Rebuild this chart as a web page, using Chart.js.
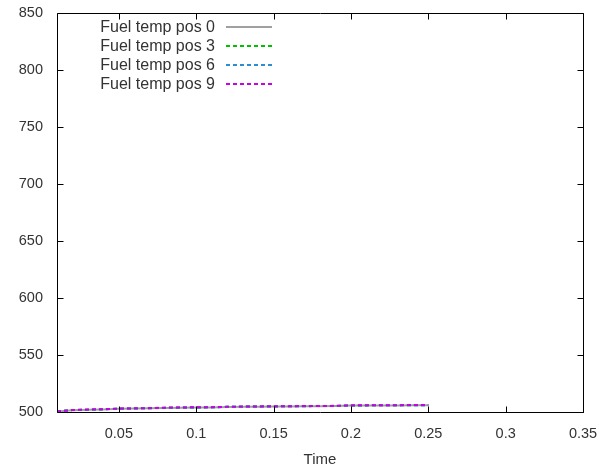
<!DOCTYPE html>
<html>
<head>
<meta charset="utf-8">
<script src="https://cdn.jsdelivr.net/npm/chart.js@4.4.1/dist/chart.umd.min.js"></script>
<style>
html,body{margin:0;padding:0;background:#fff;}
#wrap{width:599px;height:469px;position:relative;}
</style>
</head>
<body>
<div id="wrap"><canvas id="c" width="599" height="469"></canvas></div>
<script>
const time = [0.01,0.02,0.03,0.04,0.05,0.06,0.07,0.08,0.09,0.10,0.11,0.12,0.13,0.14,0.15,0.16,0.17,0.18,0.19,0.20,0.21,0.22,0.23,0.24,0.25];
const fuelPos0 = [500.4,501.6,501.9,502.3,502.8,503.0,503.2,503.6,503.8,503.9,504.0,504.4,504.6,504.7,504.8,504.9,505.0,505.1,505.2,505.6,505.7,505.8,505.8,505.9,505.9];
const fuelPos3 = [500.5,501.7,502.0,502.4,502.9,503.1,503.3,503.7,503.9,504.0,504.1,504.5,504.7,504.8,504.9,505.0,505.1,505.2,505.3,505.7,505.8,505.9,505.9,506.0,506.0];
const fuelPos6 = [500.5,501.7,502.0,502.4,502.9,503.1,503.3,503.7,503.9,504.0,504.1,504.5,504.7,504.8,504.9,505.0,505.1,505.2,505.3,505.7,505.8,505.9,505.9,506.0,506.0];
const fuelPos9 = [500.5,501.8,502.1,502.5,503.0,503.2,503.4,503.8,504.0,504.1,504.2,504.6,504.8,504.9,505.0,505.1,505.2,505.3,505.4,505.8,505.9,506.0,506.0,506.1,506.1];
const seriesLabels = ["Fuel temp pos 0","Fuel temp pos 3","Fuel temp pos 6","Fuel temp pos 9"];
const xTicks = [0.05,0.1,0.15,0.2,0.25,0.3,0.35];
const yTicks = [500,550,600,650,700,750,800,850];
const xTitle = "Time";

const colors = ['#a0a0a0','#00c000','#2a8fd0','#c800e8'];
const dashes = [[],[4,3],[4,3],[4,3]];
const seriesData = [fuelPos0,fuelPos3,fuelPos6,fuelPos9];

const datasets = seriesData.map((arr,i)=>({
  label: seriesLabels[i],
  data: time.map((t,j)=>({x:t,y:arr[j]})),
  borderColor: colors[i],
  backgroundColor: colors[i],
  borderWidth: 2,
  borderDash: dashes[i],
  pointRadius: 0,
  pointHoverRadius: 0,
  tension: 0,
  fill: false,
  order: 3-i
}));

const FONT = "'Liberation Sans', Arial, sans-serif";

const framePlugin = {
  id: 'frame',
  afterDatasetsDraw(chart){
    const ctx = chart.ctx;
    const a = chart.chartArea;
    const xs = chart.scales.x, ys = chart.scales.y;
    ctx.save();
    ctx.strokeStyle = '#000';
    ctx.lineWidth = 1;
    ctx.beginPath();
    const L = Math.round(a.left)+0.5, R = Math.round(a.right)+0.5, T = Math.round(a.top)+0.5, B = Math.round(a.bottom)+0.5;
    ctx.rect(L, T, R-L, B-T);
    const tl = 6;
    xTicks.forEach(v=>{
      const px = Math.round(xs.getPixelForValue(v))+0.5;
      ctx.moveTo(px,B); ctx.lineTo(px,B-tl);
      ctx.moveTo(px,T); ctx.lineTo(px,T+tl);
    });
    yTicks.forEach(v=>{
      const py = Math.round(ys.getPixelForValue(v))+0.5;
      ctx.moveTo(L,py); ctx.lineTo(L+tl,py);
      ctx.moveTo(R,py); ctx.lineTo(R-tl,py);
    });
    ctx.stroke();
    // legend (gnuplot style: text then sample)
    ctx.font = '16px ' + FONT;
    ctx.textAlign = 'right';
    ctx.textBaseline = 'middle';
    const textRight = 215, lx0 = 226, lx1 = 272, y0 = 27, dy = 19;
    chart.data.datasets.forEach((ds,i)=>{
      const y = y0 + i*dy;
      ctx.fillStyle = '#333';
      ctx.fillText(ds.label, textRight, y+1);
      ctx.beginPath();
      ctx.strokeStyle = ds.borderColor;
      ctx.lineWidth = 2;
      ctx.setLineDash(ds.borderDash);
      ctx.moveTo(lx0, y); ctx.lineTo(lx1, y);
      ctx.stroke();
      ctx.setLineDash([]);
    });
    ctx.restore();
  }
};

new Chart(document.getElementById('c'), {
  type: 'line',
  data: { datasets },
  options: {
    responsive: false,
    animation: false,
    events: [],
    layout: { autoPadding: false, padding: { top: 13, right: 16, left: 0, bottom: 0 } },
    plugins: { legend: { display: false }, tooltip: { enabled: false } },
    scales: {
      x: {
        type: 'linear',
        min: 0.01, max: 0.35,
        afterBuildTicks(s){ s.ticks = xTicks.map(v=>({value:v})); },
        afterFit(s){ s.height = 57; s.paddingLeft = 0; s.paddingRight = 0; },
        grid: { display: false, drawTicks: false },
        border: { display: false },
        ticks: { color: '#333', font: { size: 14.5, family: FONT }, padding: 13, maxRotation: 0, autoSkip: false,
                 callback: v => String(v) },
        title: { display: true, text: xTitle, color: '#333', font: { size: 15, family: FONT }, padding: { top: 6, bottom: 0 } }
      },
      y: {
        type: 'linear',
        min: 500, max: 850,
        afterBuildTicks(s){ s.ticks = yTicks.map(v=>({value:v})); },
        afterFit(s){ s.width = 57; s.paddingTop = 0; s.paddingBottom = 0; },
        grid: { display: false, drawTicks: false },
        border: { display: false },
        ticks: { color: '#333', font: { size: 14.5, family: FONT }, padding: 14, autoSkip: false,
                 callback: v => String(v) }
      }
    }
  },
  plugins: [framePlugin]
});
</script>
</body>
</html>
